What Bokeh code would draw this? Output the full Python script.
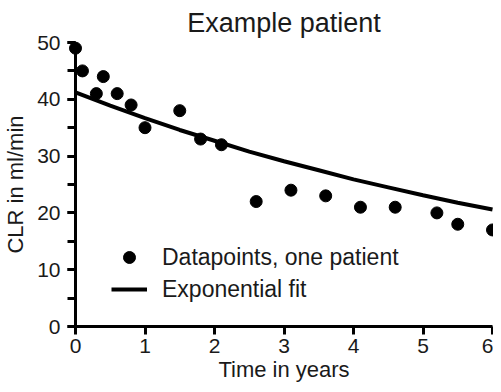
from bokeh.plotting import figure
from bokeh.models import Range1d, SingleIntervalTicker, Legend, LegendItem
from bokeh.embed import file_html
from bokeh.resources import INLINE

# Data
time_years = [0.0, 0.1, 0.3, 0.4, 0.6, 0.8, 1.0, 1.5, 1.8, 2.1, 2.6, 3.1, 3.6, 4.1, 4.6, 5.2, 5.5, 6.0]
clr_values = [49, 45, 41, 44, 41, 39, 35, 38, 33, 32, 22, 24, 23, 21, 21, 20, 18, 17]

fit_time = [0.0, 0.5, 1.0, 1.5, 2.0, 2.5, 3.0, 3.5, 4.0, 4.5, 5.0, 5.5, 6.0]
fit_clr = [41.2, 38.9, 36.7, 34.6, 32.7, 30.8, 29.1, 27.5, 25.9, 24.5, 23.1, 21.8, 20.6]

title_text = "Example patient"
x_label = "Time in years"
y_label = "CLR in ml/min"
legend_points = "Datapoints, one patient"
legend_fit = "Exponential fit"

FONT = "Liberation Sans"
TXT = "#1a1a1a"

p = figure(frame_width=417, frame_height=284, output_backend="svg", toolbar_location=None,
           x_range=Range1d(0, 6), y_range=Range1d(0, 50),
           min_border_left=0, min_border_right=1, min_border_top=0, min_border_bottom=0)
p.outline_line_color = None
p.grid.visible = False
p.background_fill_color = "white"
p.border_fill_color = "white"

p.title.text = title_text
p.title.text_font = FONT
p.title.text_font_size = "27px"
p.title.text_font_style = "normal"
p.title.text_color = TXT
p.title.align = "center"
p.title.offset = 4
p.title.standoff = 10

fit_r = p.line(fit_time, fit_clr, line_width=4, line_color="black", level="overlay")
pts_r = p.scatter(time_years, clr_values, size=12, fill_color="black", line_color="black", level="overlay")

for ax in (p.xaxis[0], p.yaxis[0]):
    ax.axis_line_width = 3
    ax.axis_line_color = "black"
    ax.major_tick_line_width = 3
    ax.minor_tick_line_width = 3
    ax.major_tick_out = 8
    ax.major_tick_in = 0
    ax.minor_tick_out = 8
    ax.minor_tick_in = 0
    ax.major_tick_line_color = "black"
    ax.minor_tick_line_color = "black"
    ax.major_label_text_font = FONT
    ax.major_label_text_font_size = "21px"
    ax.major_label_text_color = TXT
    ax.axis_label_text_font = FONT
    ax.axis_label_text_font_style = "normal"
    ax.axis_label_text_color = TXT
    ax.axis_label_text_font_size = "22px"

p.xaxis.ticker = SingleIntervalTicker(interval=1, num_minor_ticks=0)
p.yaxis.ticker = SingleIntervalTicker(interval=10, num_minor_ticks=2)
p.xaxis.axis_label = x_label
p.yaxis.axis_label = y_label
p.xaxis.major_label_standoff = 4
p.yaxis.major_label_standoff = 7
p.xaxis.axis_label_standoff = 1
p.yaxis.axis_label_standoff = 6

legend = Legend(items=[LegendItem(label=legend_points, renderers=[pts_r]),
                       LegendItem(label=legend_fit, renderers=[fit_r])],
                location=(36, 22))
legend.label_text_font = FONT
legend.label_text_font_size = "23px"
legend.label_text_color = TXT
legend.glyph_width = 36
legend.glyph_height = 30
legend.label_height = 30
legend.label_standoff = 15
legend.spacing = 2
legend.padding = 0
legend.margin = 0
legend.border_line_color = None
legend.background_fill_alpha = 0
p.add_layout(legend, "center")

open("out.html", "w").write(file_html(p, INLINE))
